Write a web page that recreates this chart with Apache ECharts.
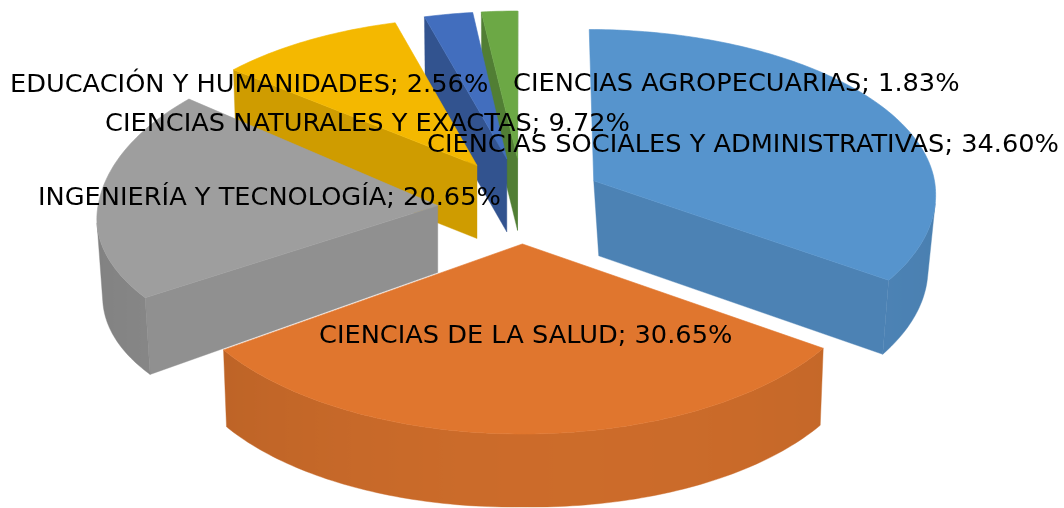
<!DOCTYPE html>
<html>
<head>
<meta charset="utf-8">
<style>
  html, body { margin: 0; padding: 0; background: #fff; }
  #chart { width: 1064px; height: 508px; }
</style>
<script src="https://cdn.jsdelivr.net/npm/echarts@6/dist/echarts.min.js"></script>
</head>
<body>
<div id="chart"></div>
<script>
// datos
const categories = [
  'CIENCIAS SOCIALES Y ADMINISTRATIVAS',
  'CIENCIAS DE LA SALUD',
  'INGENIERÍA Y TECNOLOGÍA',
  'CIENCIAS NATURALES Y EXACTAS',
  'EDUCACIÓN Y HUMANIDADES',
  'CIENCIAS AGROPECUARIAS'
]
const values = [34.60, 30.65, 20.65, 9.72, 2.56, 1.83]

// estilo de cada porcion
const topColors = ['#5694cd', '#e0762e', '#9e9e9e', '#f4b800', '#426ebe', '#6ca845']
const sideShade = [0.88, 0.89, 0.91, 0.85, 0.75, 0.75]
const labelLeft = [427, 319, 38, 105, 10, 513]
const labelMiddle = [145, 336, 198, 124, 85, 84]
const paintOrder = [5, 4, 3, 2, 0, 1]

// ajuste fino de cada porcion respecto a la proyeccion
const nudgeX = [1, -1, -6, -3, -1, -1]
const nudgeY = [-6, -1, 2, -7, -8, -8]
const scaleX = [0.995, 1, 0.985, 0.97, 0.96, 1]
const backScale = [0.96, 1, 1.03, 0.95, 0.95, 0.95]
const frontScale = [1, 1, 0.9, 1, 1, 1]
const wallShift = [5, 0, 0, 0, 0, 0]
const wallScale = [0.963, 0.99, 0.983, 0.99, 0.99, 0.99]
const wallDepth = [75, 73, 67, 73, 73, 72]
const wallSlope = [-1, 4, 10, 0, 0, 0]

const centerX = 523
const centerY = 205
const radiusX = 345
const radiusY = 171
const perspective = 0.0695
const explode = 0.23

const total = values.reduce((a, b) => a + b, 0)
const slices = []
let acc = 0
values.forEach((v, i) => {
  const start = acc / total * 2 * Math.PI
  acc += v
  slices.push({ start: start, end: acc / total * 2 * Math.PI, index: i })
})

function shade (hex, f) {
  const n = parseInt(hex.slice(1), 16)
  const r = Math.round((n >> 16) * f)
  const g = Math.round(((n >> 8) & 255) * f)
  const b = Math.round((n & 255) * f)
  return 'rgb(' + r + ',' + g + ',' + b + ')'
}

// proyeccion del plano de la torta a la pantalla
function project (x, z) {
  const p = 1 / (1 + perspective * z)
  return [centerX + radiusX * x * p, centerY - radiusY * z * p]
}

function signedArea (pts) {
  let a = 0
  pts.forEach((p, i) => {
    const q = pts[(i + 1) % pts.length]
    a += p[0] * q[1] - q[0] * p[1]
  })
  return a / 2
}

function renderSlice (params, api) {
  const start = api.value(0)
  const end = api.value(1)
  const i = api.value(2)
  const mid = (start + end) / 2
  const ox = explode * Math.sin(mid)
  const oz = explode * Math.cos(mid)
  const base = project(ox, oz)
  const apex = [base[0] + nudgeX[i], base[1] + nudgeY[i]]
  const topPoint = t => {
    const pt = project(ox + Math.sin(t), oz + Math.cos(t))
    const dy = pt[1] - base[1]
    return [
      apex[0] + (pt[0] - base[0]) * scaleX[i],
      apex[1] + dy * (dy < 0 ? backScale[i] : frontScale[i])
    ]
  }
  const lower = pt => [
    apex[0] + wallShift[i] + (pt[0] - apex[0]) * wallScale[i],
    pt[1] + wallDepth[i] + wallSlope[i] * Math.abs(pt[0] - apex[0]) / 300
  ]
  const color = topColors[i]
  const children = []
  const addQuad = (pts, fill) => {
    // solo las caras que miran al observador
    if (signedArea(pts) <= 0) return
    children.push({
      type: 'polygon',
      shape: { points: pts },
      style: { fill: fill, stroke: fill, lineWidth: 0.4 }
    })
  }
  const rimStart = topPoint(start)
  const rimEnd = topPoint(end)
  const sideColor = shade(color, sideShade[i])
  addQuad([rimStart, apex, lower(apex), lower(rimStart)], sideColor)
  addQuad([apex, rimEnd, lower(rimEnd), lower(apex)], sideColor)

  // pared exterior: un solo poligono con degradado horizontal
  const n = Math.max(4, Math.ceil((end - start) * 180 / Math.PI))
  const wallTop = []
  const wallAngles = []
  for (let k = 0; k < n; k++) {
    const t1 = start + (end - start) * k / n
    const t2 = start + (end - start) * (k + 1) / n
    const a = topPoint(t1)
    const b = topPoint(t2)
    if (signedArea([b, a, lower(a), lower(b)]) > 0) {
      if (!wallTop.length) {
        wallTop.push(a)
        wallAngles.push(t1)
      }
      wallTop.push(b)
      wallAngles.push(t2)
    }
  }
  if (wallTop.length > 1) {
    const xs = wallTop.map(p => p[0])
    const minX = Math.min.apply(null, xs)
    const maxX = Math.max.apply(null, xs)
    const stops = wallTop.map((p, k) => {
      const s = Math.sin(wallAngles[k])
      const f = 0.91 - 0.07 * s * s + 0.02 * s
      return { offset: (p[0] - minX) / (maxX - minX), color: shade(color, f) }
    }).sort((a, b) => a.offset - b.offset)
    const pts = wallTop.concat(wallTop.map(lower).reverse())
    const fill = {
      type: 'linear',
      global: true,
      x: minX,
      y: 0,
      x2: maxX,
      y2: 0,
      colorStops: stops
    }
    children.push({
      type: 'polygon',
      shape: { points: pts },
      style: { fill: fill, stroke: fill, lineWidth: 0.4 }
    })
  }

  const face = [apex]
  for (let k = 0; k <= n; k++) {
    face.push(topPoint(start + (end - start) * k / n))
  }
  children.push({
    type: 'polygon',
    shape: { points: face },
    style: { fill: color, stroke: color, lineWidth: 0.6 }
  })
  return { type: 'group', children: children }
}

const chart = echarts.init(document.getElementById('chart'))
chart.setOption({
  animation: false,
  backgroundColor: '#fff',
  series: [{
    type: 'custom',
    coordinateSystem: 'none',
    renderItem: renderSlice,
    data: paintOrder.map(i => [slices[i].start, slices[i].end, i])
  }],
  graphic: categories.map((name, i) => ({
    type: 'text',
    z: 100,
    x: labelLeft[i],
    y: labelMiddle[i],
    style: {
      text: name + '; ' + values[i].toFixed(2) + '%',
      fill: '#000',
      font: '25.65px "DejaVu Sans"',
      textVerticalAlign: 'middle'
    }
  }))
})
</script>
</body>
</html>
